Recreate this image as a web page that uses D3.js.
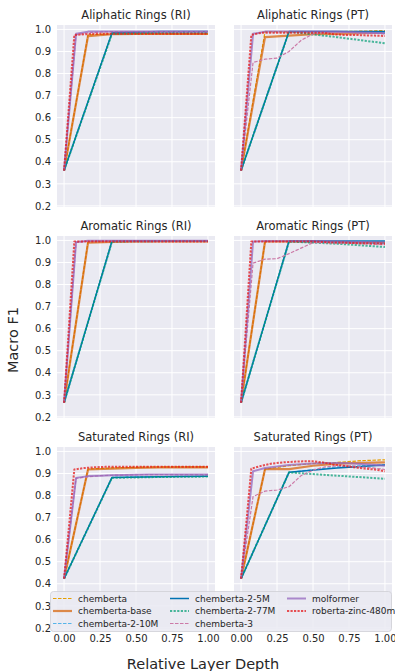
<!DOCTYPE html>
<html><head><meta charset="utf-8">
<script src="https://cdn.jsdelivr.net/npm/d3@7/dist/d3.min.js"></script>
<style>body{margin:0;background:#fff;}svg{display:block;font-family:"DejaVu Sans",sans-serif;}</style>
</head><body><svg id="c" width="395" height="671"></svg>
<script>
const models = ["chemberta","chemberta-base","chemberta-2-10M","chemberta-2-5M","chemberta-2-77M","chemberta-3","molformer","roberta-zinc-480m"];
const layerCounts = [6,6,3,3,3,12,12,14];
const panelTitles = ["Aliphatic Rings (RI)","Aliphatic Rings (PT)","Aromatic Rings (RI)","Aromatic Rings (PT)","Saturated Rings (RI)","Saturated Rings (PT)"];
const xTicks = [0,0.25,0.5,0.75,1.0];
const yTicks = [0.2,0.3,0.4,0.5,0.6,0.7,0.8,0.9,1.0];

const aliphaticRI = [
 [0.36,0.975,0.98,0.98,0.98,0.98,0.98],
 [0.36,0.97,0.978,0.98,0.98,0.98,0.98],
 [0.36,0.985,0.988,0.99],
 [0.36,0.985,0.99,0.99],
 [0.36,0.98,0.985,0.985],
 [0.36,0.975,0.985,0.988,0.99,0.99,0.99,0.99,0.99,0.99,0.99,0.99,0.99],
 [0.36,0.98,0.99,0.99,0.99,0.99,0.99,0.99,0.99,0.99,0.99,0.99,0.99],
 [0.36,0.975,0.978,0.98,0.98,0.98,0.98,0.98,0.98,0.98,0.98,0.98,0.98,0.98,0.98]
];
const aliphaticPT = [
 [0.36,0.99,0.99,0.99,0.99,0.992,0.995],
 [0.36,0.965,0.972,0.978,0.98,0.983,0.985],
 [0.36,0.99,0.99,0.985],
 [0.36,0.99,0.99,0.99],
 [0.36,0.99,0.965,0.937],
 [0.36,0.85,0.865,0.87,0.9,0.95,0.98,0.985,0.985,0.985,0.983,0.982,0.98],
 [0.36,0.98,0.99,0.99,0.99,0.99,0.99,0.99,0.99,0.988,0.986,0.985,0.983],
 [0.36,0.975,0.985,0.985,0.985,0.985,0.985,0.985,0.985,0.978,0.975,0.975,0.973,0.972,0.97]
];
const aromaticRI = [
 [0.264,0.995,0.995,0.995,0.995,0.995,0.995],
 [0.264,0.99,0.993,0.995,0.995,0.995,0.995],
 [0.264,0.997,0.998,0.998],
 [0.264,0.997,0.998,0.998],
 [0.264,0.995,0.997,0.997],
 [0.264,0.99,0.997,0.998,0.998,0.998,0.998,0.998,0.998,0.998,0.998,0.998,0.998],
 [0.264,0.993,0.998,0.998,0.998,0.998,0.998,0.998,0.998,0.998,0.998,0.998,0.998],
 [0.264,0.995,0.995,0.995,0.995,0.995,0.995,0.995,0.995,0.995,0.995,0.995,0.995,0.995,0.995]
];
const aromaticPT = [
 [0.264,0.995,0.995,0.995,0.995,0.993,0.99],
 [0.264,0.995,0.995,0.995,0.993,0.99,0.99],
 [0.264,0.995,0.99,0.985],
 [0.264,0.997,0.997,0.997],
 [0.264,0.995,0.985,0.97],
 [0.264,0.897,0.915,0.917,0.94,0.965,0.99,0.99,0.988,0.987,0.985,0.983,0.98],
 [0.264,0.995,0.997,0.997,0.997,0.997,0.997,0.996,0.995,0.994,0.993,0.992,0.99],
 [0.264,0.995,0.995,0.995,0.995,0.995,0.995,0.995,0.993,0.99,0.99,0.988,0.987,0.986,0.985]
];
const saturatedRI = [
 [0.423,0.92,0.925,0.928,0.93,0.93,0.93],
 [0.423,0.918,0.922,0.925,0.927,0.928,0.928],
 [0.423,0.882,0.886,0.888],
 [0.423,0.882,0.885,0.887],
 [0.423,0.88,0.884,0.886],
 [0.423,0.878,0.885,0.89,0.892,0.893,0.894,0.895,0.895,0.895,0.895,0.895,0.895],
 [0.423,0.88,0.888,0.89,0.892,0.893,0.894,0.895,0.895,0.895,0.895,0.895,0.895],
 [0.423,0.918,0.925,0.928,0.93,0.93,0.93,0.93,0.93,0.93,0.93,0.93,0.93,0.93,0.93]
];
const saturatedPT = [
 [0.423,0.92,0.935,0.945,0.95,0.958,0.962],
 [0.423,0.92,0.92,0.935,0.945,0.948,0.95],
 [0.423,0.905,0.93,0.94],
 [0.423,0.905,0.925,0.938],
 [0.423,0.905,0.89,0.876],
 [0.423,0.795,0.82,0.825,0.84,0.89,0.915,0.93,0.935,0.935,0.93,0.925,0.918],
 [0.423,0.91,0.925,0.932,0.938,0.942,0.945,0.948,0.948,0.946,0.943,0.94,0.935],
 [0.423,0.922,0.935,0.945,0.95,0.953,0.955,0.955,0.95,0.94,0.935,0.928,0.922,0.918,0.91]
];
const panelData = [aliphaticRI,aliphaticPT,aromaticRI,aromaticPT,saturatedRI,saturatedPT];

const styles = [
 {c:"#E69F00",w:1.2,d:"3.5,1.5",o:1},
 {c:"#D55E00",w:2.2,d:null,o:0.7},
 {c:"#56B4E9",w:1.2,d:"3.5,1.5",o:1},
 {c:"#0072B2",w:1.5,d:null,o:1},
 {c:"#009E73",w:2,d:"2.2,1.4",o:0.7},
 {c:"#CC79A7",w:1.2,d:"3.5,1.5",o:1},
 {c:"#9467bd",w:2,d:null,o:0.75},
 {c:"#e41a1c",w:2,d:"2.2,1.3",o:0.75}
];

const svg = d3.select("#c");
const colX = [57,234], rowY = [25,236,447], pw = 158, ph = 182;
const x = d3.scaleLinear().domain([-0.049,1.049]).range([0,pw]);
const y = d3.scaleLinear().domain([0.195,1.02]).range([ph,0]);
const txt = "#262626";

panelData.forEach((series,p)=>{
  const col = p%2, row = Math.floor(p/2);
  const g = svg.append("g").attr("transform",`translate(${colX[col]},${rowY[row]})`);
  g.append("rect").attr("width",pw).attr("height",ph).attr("fill","#EAEAF2");
  g.selectAll(".gx").data(xTicks).join("line").attr("x1",d=>x(d)).attr("x2",d=>x(d)).attr("y1",0).attr("y2",ph).attr("stroke","#fff").attr("stroke-width",1);
  g.selectAll(".gy").data(yTicks).join("line").attr("y1",d=>y(d)).attr("y2",d=>y(d)).attr("x1",0).attr("x2",pw).attr("stroke","#fff").attr("stroke-width",1);
  g.append("text").attr("x",pw/2).attr("y",-6).attr("text-anchor","middle").attr("font-size",11.5).attr("fill",txt).text(panelTitles[p]);
  if(col===0){
    const ya = d3.axisLeft(y).tickValues(yTicks).tickFormat(d3.format(".1f")).tickSize(0).tickPadding(6);
    const a = g.append("g").call(ya);
    a.select(".domain").remove();
    a.selectAll("text").attr("font-size",10).attr("fill",txt).attr("font-family","DejaVu Sans");
  }
  if(row===2){
    const xa = d3.axisBottom(x).tickValues(xTicks).tickFormat(d3.format(".2f")).tickSize(0).tickPadding(6);
    const a = g.append("g").attr("transform",`translate(0,${ph})`).call(xa);
    a.select(".domain").remove();
    a.selectAll("text").attr("font-size",10).attr("fill",txt).attr("font-family","DejaVu Sans");
  }
  const line = d3.line().x(d=>x(d[0])).y(d=>y(d[1]));
  series.forEach((vals,m)=>{
    const n = layerCounts[m];
    const pts = vals.map((v,i)=>[i/n,v]);
    const s = styles[m];
    g.append("path").attr("d",line(pts)).attr("fill","none").attr("stroke",s.c).attr("stroke-width",s.w)
      .attr("stroke-opacity",s.o).attr("stroke-dasharray",s.d).attr("stroke-linejoin","round");
  });
});

svg.append("text").attr("transform","translate(18,340) rotate(-90)").attr("text-anchor","middle").attr("font-size",14.5).attr("fill",txt).text("Macro F1");
svg.append("text").attr("x",203).attr("y",669).attr("text-anchor","middle").attr("font-size",14.5).attr("fill",txt).text("Relative Layer Depth");

// legend
const lg = svg.append("g");
lg.append("rect").attr("x",50.5).attr("y",591.5).attr("width",341).attr("height",40).attr("rx",3)
  .attr("fill","#EAEAF2").attr("fill-opacity",0.85).attr("stroke","#cfcfd6").attr("stroke-width",0.8);
const legCols = [53,170,287], legRows = [598.5,611,623.5];
models.forEach((name,m)=>{
  const c = Math.floor(m/3), r = m%3;
  const s = styles[m];
  const gx = legCols[c], gy = legRows[r];
  lg.append("line").attr("x1",gx).attr("x2",gx+19).attr("y1",gy).attr("y2",gy).attr("stroke",s.c)
    .attr("stroke-width",s.w).attr("stroke-opacity",s.o).attr("stroke-dasharray",s.d);
  lg.append("text").attr("x",gx+25).attr("y",gy+3.2).attr("font-size",9).attr("fill",txt).text(name);
});
</script></body></html>
